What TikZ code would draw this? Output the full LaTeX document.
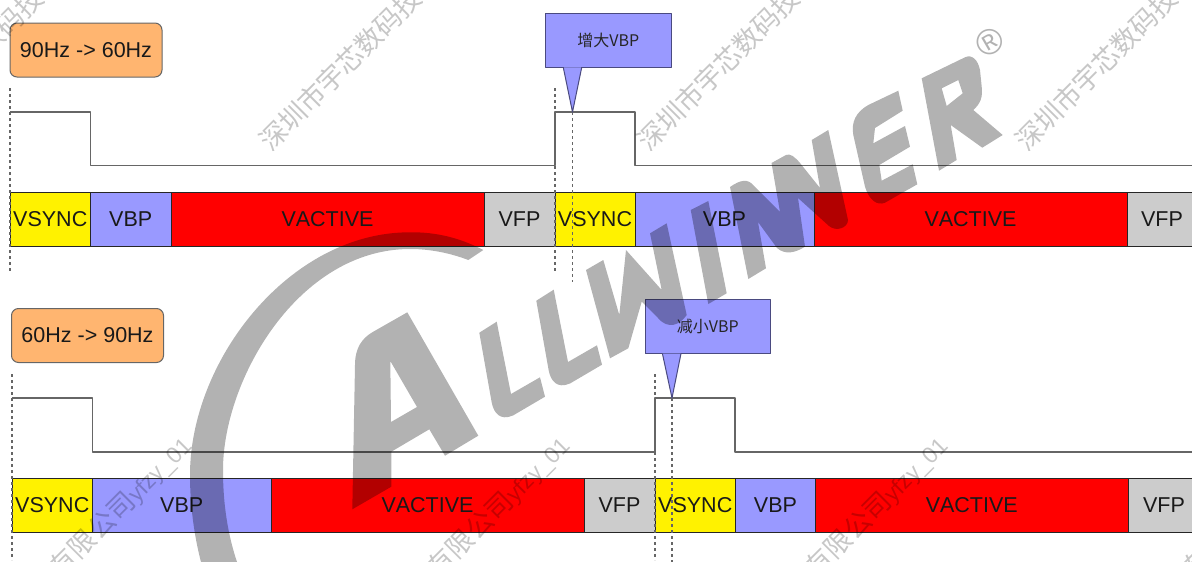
\documentclass[tikz,border=0pt]{standalone}
\usepackage{fontspec}
\setmainfont[Kerning=Off]{Liberation Sans}
\newfontfamily\cjk{Noto Sans CJK SC}
\definecolor{vbpblue}{HTML}{9999FF}
\definecolor{tagorange}{HTML}{FFB570}
\definecolor{vfpgray}{HTML}{CCCCCC}
\definecolor{tipline}{HTML}{4A4A80}
\tikzset{
	seg/.style={draw=black!85, line width=1pt, inner sep=0pt, outer sep=0pt, minimum height=53.5pt, font=\fontsize{21.5}{21.5}\selectfont, text=black!90},
	tag/.style={draw=black!60, line width=1pt, fill=tagorange, rounded corners=7pt, inner sep=0pt, minimum width=152pt, minimum height=54pt, font=\fontsize{21.5}{21.5}\selectfont, text=black!90},
	tipbox/.style={draw=tipline, line width=1pt, fill=vbpblue, inner sep=0pt, outer sep=0pt, minimum width=125.5pt, minimum height=54pt, font=\cjk\fontsize{16}{16}\selectfont, text=black!85},
	tipend/.style={draw=tipline, line width=1pt, fill=vbpblue},
	wave/.style={draw=black!60, line width=1.4pt},
	guide/.style={draw=black!60, line width=1.3pt, dash pattern=on 3pt off 3pt},
	logo/.style={fill=black, fill opacity=0.3, draw=none},
	stamp/.style={rotate=45, text=black, text opacity=0.22, inner sep=0pt, font=\cjk\fontsize{27}{27}\selectfont}
}
\begin{document}
\begin{tikzpicture}[x=1pt, y=-1pt, line join=round]
	\def\stamptext{深圳市宇芯数码技术有限公司{\normalfont\fontsize{23}{23}\selectfont yfzy\_01}}
	\useasboundingbox (0,0) rectangle (1192,562);
	\clip (0,0) rectangle (1192,562);
	\node[tag] (fromninety) at (86,50) {90Hz -> 60Hz};
	\node[tag] (fromsixty) at (87.5,335.5) {60Hz -> 90Hz};
	\draw[wave] (10,112)--(90.5,112)--(90.5,165.5)--(555,165.5)--(555,112)--(635,112)--(635,165.5)--(1192,165.5);
	\draw[wave] (12,398)--(92.5,398)--(92.5,452)--(655,452)--(655,398)--(735,398)--(735,452)--(1192,452);
	\foreach \xl/\xr/\col/\txt [count=\i] in {10/90.5/yellow/VSYNC, 90.5/171/vbpblue/VBP, 171/484/red/VACTIVE, 484/555/vfpgray/VFP, 555/635/yellow/VSYNC, 635/814/vbpblue/VBP, 814/1127/red/VACTIVE, 1127/1197/vfpgray/VFP}
		\node[seg, fill=\col, minimum width={(\xr-\xl)*1pt}] (top\i) at ({(\xl+\xr)/2},219.25) {\txt};
	\foreach \xl/\xr/\col/\txt [count=\i] in {12/92.5/yellow/VSYNC, 92.5/271/vbpblue/VBP, 271/584/red/VACTIVE, 584/655/vfpgray/VFP, 655/735.5/yellow/VSYNC, 735.5/815.5/vbpblue/VBP, 815.5/1128/red/VACTIVE, 1128/1200/vfpgray/VFP}
		\node[seg, fill=\col, minimum width={(\xr-\xl)*1pt}] (bot\i) at ({(\xl+\xr)/2},505.5) {\txt};
	\foreach \x/\ya/\yb [count=\i] in {10/88/272, 555/88/272, 572.5/112/282, 12/374/560, 655/374/560, 672/398/562} {
		\coordinate (ga\i) at (\x,\ya);
		\coordinate (gb\i) at (\x,\yb);
		\draw[guide] (ga\i)--(gb\i);
	}
	\node[tipbox] (grow) at (608.25,40.25) {增大VBP};
	\node[tipbox] (shrink) at (707.8,326.5) {减小VBP};
	\coordinate (growtip) at (572.5,112);
	\coordinate (shrinktip) at (672,398);
	\filldraw[tipend] ([xshift=-45pt]grow.south) -- (growtip) -- ([xshift=-26.5pt]grow.south);
	\filldraw[tipend] ([xshift=-45.4pt]shrink.south) -- (shrinktip) -- ([xshift=-26.8pt]shrink.south);
	\fill[logo] (483.3,250) .. controls (460,238) and (437,232) .. (410,232.3) .. controls (290,232) and (190,360) .. (190,475) .. controls (190,505) and (194,535) .. (201,562) -- (237,562) .. controls (228,535) and (223,505) .. (223,470) .. controls (223,380) and (298,249) .. (410,249) .. controls (430,249) and (450,253) .. (468.3,260) -- cycle;
	\fill[logo, even odd rule] (407.3,312.3) -- (478.3,435.7) -- (445,455.7) -- (429.3,429.3) -- (391.3,451.7) -- (391.3,486.7) -- (352.3,509.3) -- (355,365) .. controls (355,348) and (362,338) .. (373.3,331.7) -- cycle (390.3,361) -- (417,407) -- (391,422) -- cycle;
	\foreach \dx/\dy in {0/0, 57/-32}
		\fill[logo, shift={(\dx,\dy)}] (479.3,332.7) -- (496.7,321.7) -- (511,394) -- (540,377.3) -- (545,396.7) -- (513,415.5) .. controls (500,421) and (494,413) .. (491.8,403) -- cycle;
	\fill[logo] (586,270) -- (603.3,260) -- (619.3,315) -- (626,250) -- (661.7,290) -- (650,233.3) -- (666.7,223.3) -- (686.7,315) .. controls (680,325) and (668,330) .. (658,318) -- (641.7,301.7) -- (628.3,348.3) -- (610,358.3) -- cycle;
	\fill[logo] (690.7,210) -- (708.3,201) -- (726.7,293.3) -- (708.3,304) -- cycle;
	\fill[logo] (730,187) .. controls (740,180) and (748,178) .. (754,186) -- (780,212) -- (771.5,163) -- (786,155) .. controls (790,153) and (795,157) .. (800,163) -- (820,188) -- (811.7,140) -- (828.3,130) -- (848,220) .. controls (848,228) and (836,232) .. (829,226) -- (798,198) -- (805,246.7) .. controls (795,253) and (785,255) .. (777,248) -- (758,222) -- (766,268.3) -- (748.3,279) -- cycle;
	\fill[logo] (898.3,90.7) -- (902.7,110.7) -- (875,128) -- (873.3,143.3) -- (905,126) -- (910,146.7) -- (879.3,165) -- (881.7,180.7) -- (912.7,164.3) -- (917.3,184.3) -- (885,202.7) .. controls (877,206) and (869,200) .. (865,186.7) -- (853.3,135) .. controls (851,122) and (856,112) .. (868.3,105) -- cycle;
	\fill[logo, even odd rule] (921.7,78.3) -- (965,57.3) .. controls (972,54) and (978,60) .. (980,70) -- (981.7,86.7) .. controls (983,98) and (980,104) .. (973.3,110) -- (1002.7,135) -- (982.3,147.7) -- (950.7,125) -- (956.7,160) -- (939,170.7) -- cycle (941.7,88.3) -- (958.3,80) -- (962.7,93.3) -- (946.7,106) -- cycle;
	\node[rotate=30, text=black, text opacity=0.3, inner sep=0pt, font=\fontsize{36}{36}\selectfont] (regmark) at (989.3,41.7) {®};
	\foreach \x [count=\i] in {-114,264.5,642.5,1020.5}
		\node[stamp, anchor=west] (stampa\i) at (\x,146.5) {\stamptext};
	\foreach \x [count=\i] in {187,565,943,1321}
		\node[stamp, anchor=east] (stampb\i) at (\x,441) {\stamptext};
\end{tikzpicture}
\end{document}
